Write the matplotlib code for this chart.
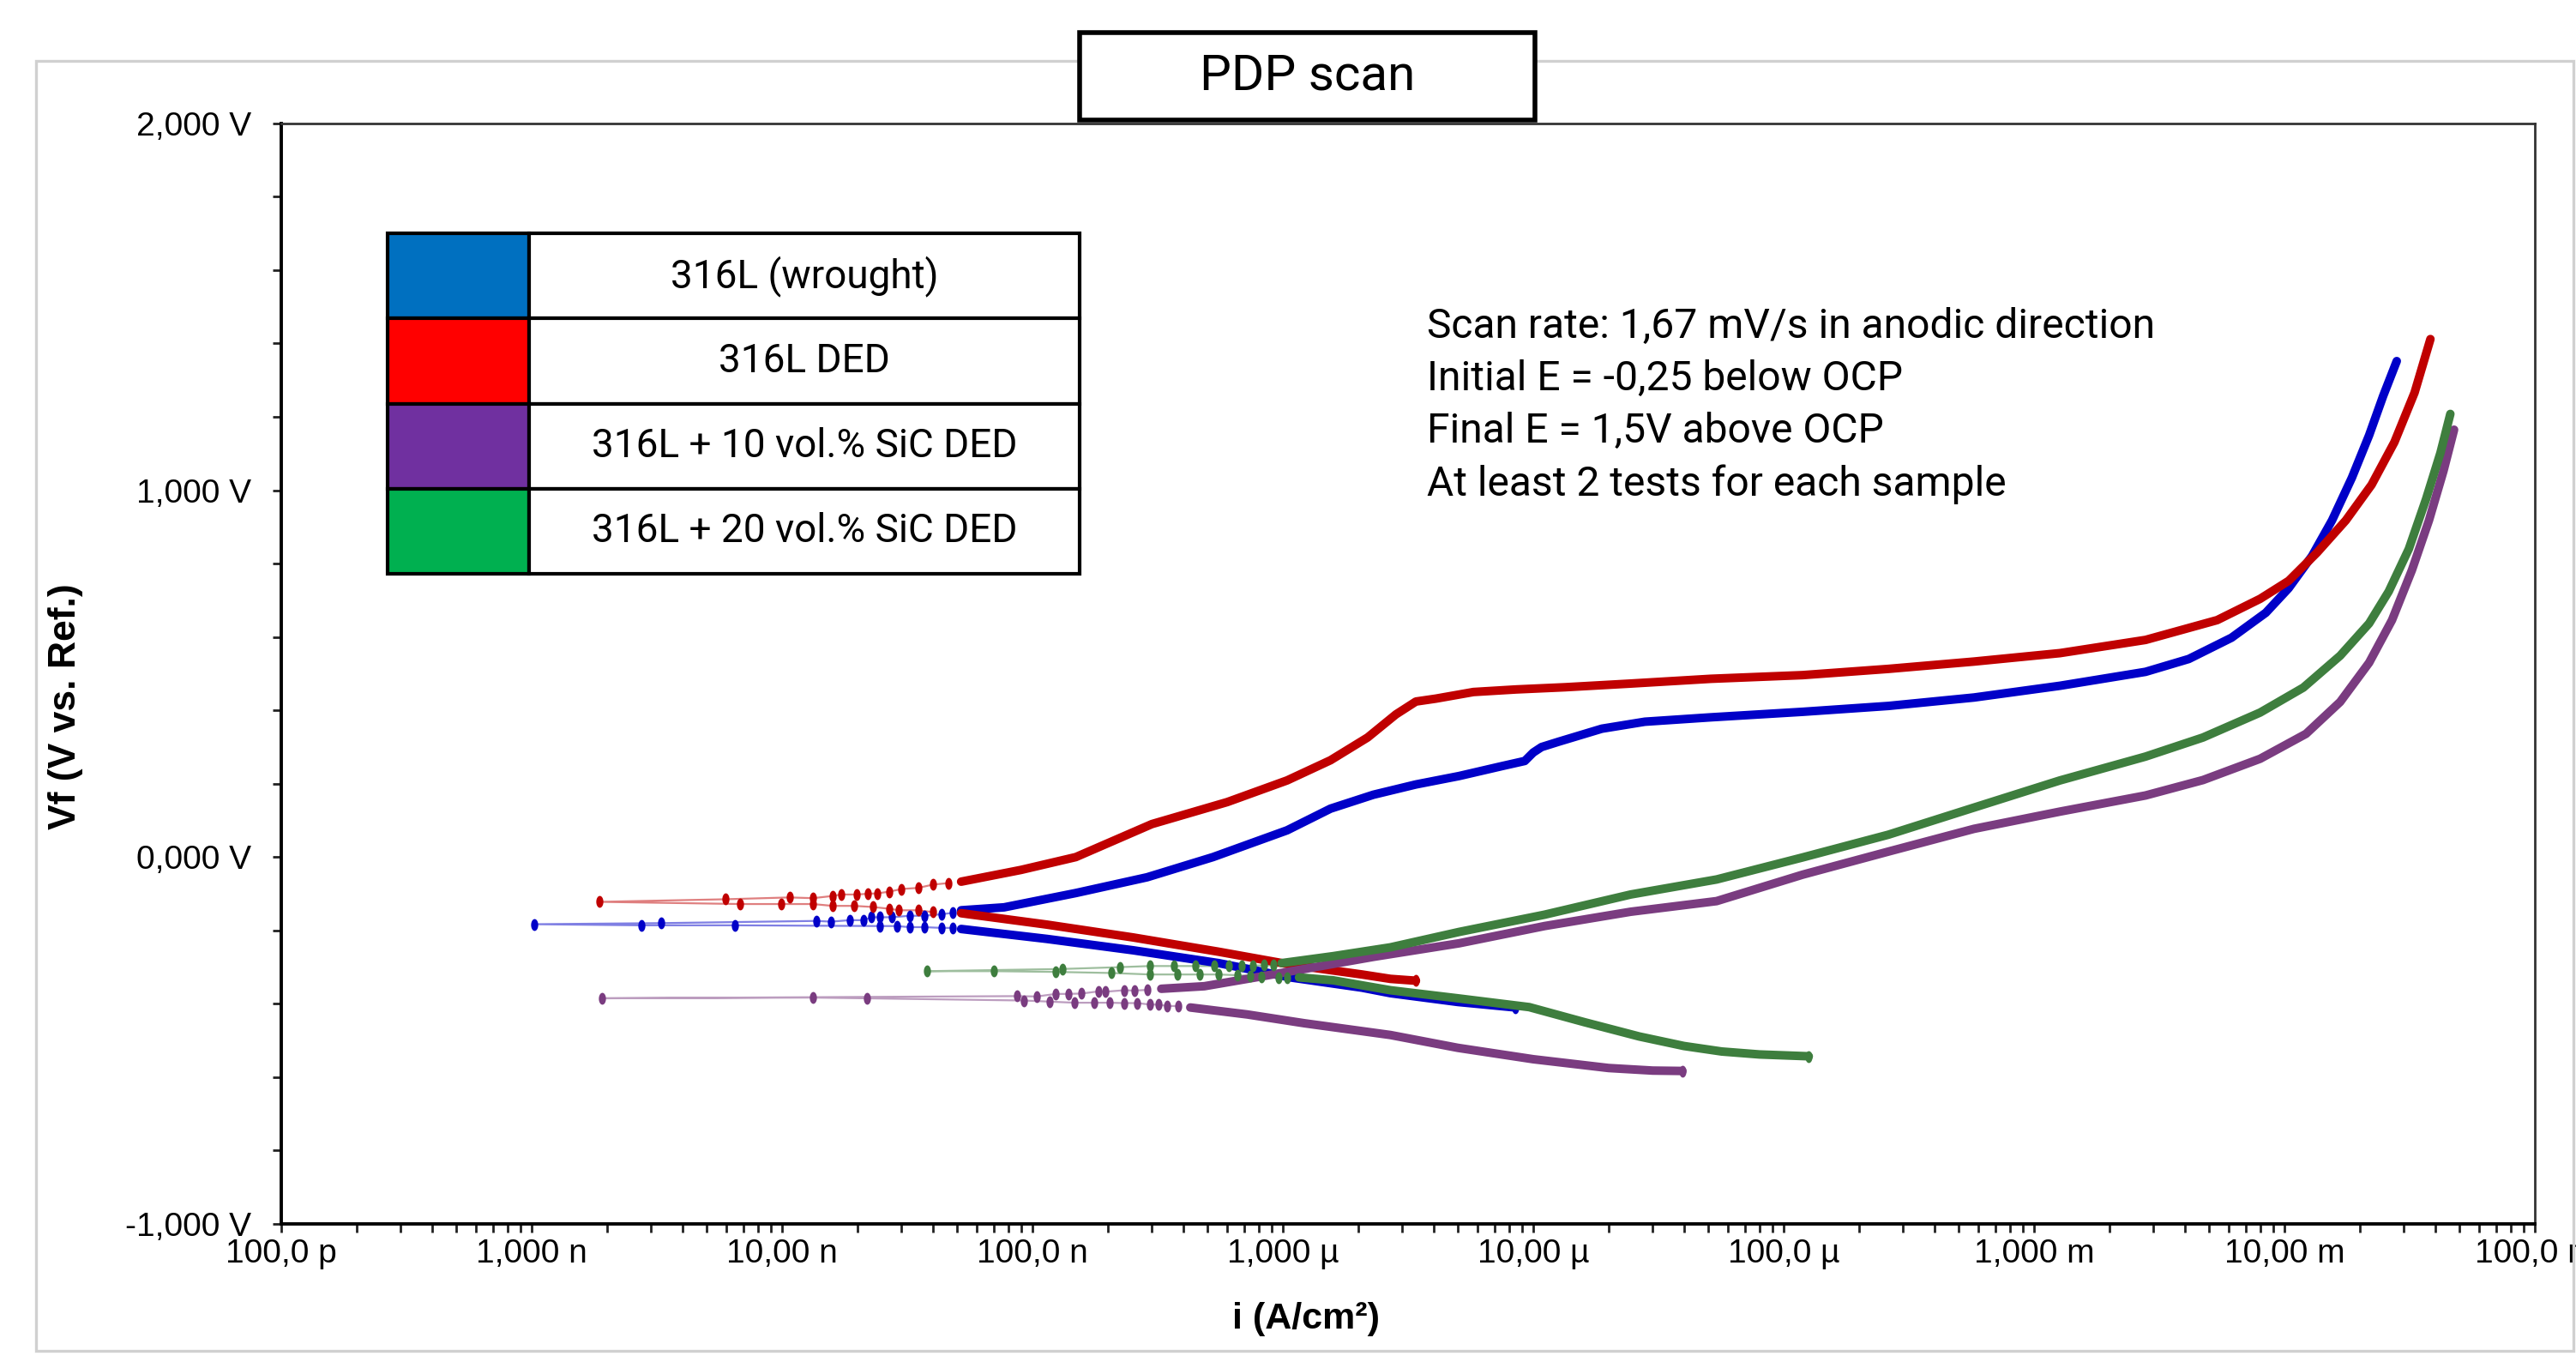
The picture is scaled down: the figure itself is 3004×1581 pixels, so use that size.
import matplotlib.pyplot as plt
from matplotlib.patches import Rectangle
from matplotlib.ticker import LogLocator, NullFormatter, MultipleLocator
import numpy as np

# axis ticks
x_ticks = [1e-10, 1e-9, 1e-8, 1e-7, 1e-6, 1e-5, 1e-4, 1e-3, 1e-2, 1e-1]
x_tick_labels = ["100,0 p", "1,000 n", "10,00 n", "100,0 n", "1,000 µ",
                 "10,00 µ", "100,0 µ", "1,000 m", "10,00 m", "100,0 m"]
y_ticks = [-1, 0, 1, 2]
y_tick_labels = ["-1,000 V", "0,000 V", "1,000 V", "2,000 V"]

samples = ["316L (wrought)", "316L DED", "316L + 10 vol.% SiC DED", "316L + 20 vol.% SiC DED"]
legend_colors = ["#0070C0", "#FF0000", "#7030A0", "#00B050"]
curve_colors = ["#0000C8", "#C00000", "#7A3C80", "#3E7E3E"]

notes = ["Scan rate: 1,67 mV/s in anodic direction",
         "Initial E = -0,25 below OCP",
         "Final E = 1,5V above OCP",
         "At least 2 tests for each sample"]

# ---- 316L wrought (blue) ----
blue_cat_i = [8.5e-6, 5.0e-6, 2.69e-6, 2.07e-6, 1.07e-6, 5.54e-7, 2.52e-7, 1.14e-7, 5.19e-8]
blue_cat_e = [-0.410, -0.395, -0.371, -0.356, -0.328, -0.289, -0.254, -0.223, -0.196]
blue_ocp_i = [4.80e-8, 4.32e-8, 3.69e-8, 3.23e-8, 2.87e-8, 2.45e-8, 6.49e-9, 2.75e-9, 1.02e-9, 3.30e-9,
              1.37e-8, 1.57e-8, 1.86e-8, 2.12e-8, 2.27e-8, 2.45e-8, 2.75e-8, 3.23e-8, 3.69e-8, 4.32e-8, 4.80e-8]
blue_ocp_e = [-0.193, -0.193, -0.191, -0.191, -0.188, -0.188, -0.186, -0.186, -0.183, -0.180,
              -0.174, -0.176, -0.172, -0.172, -0.164, -0.164, -0.164, -0.160, -0.160, -0.156, -0.152]
blue_an_i = [5.19e-8, 7.70e-8, 1.49e-7, 2.87e-7, 5.26e-7, 1.04e-6, 1.55e-6, 2.30e-6, 3.40e-6, 5.06e-6,
             7.50e-6, 9.25e-6, 1.00e-5, 1.08e-5, 1.27e-5, 1.88e-5, 2.79e-5, 5.12e-5, 1.19e-4, 2.62e-4,
             5.76e-4, 1.27e-3, 2.79e-3, 4.15e-3, 6.15e-3, 8.43e-3, 1.04e-2, 1.29e-2, 1.55e-2, 1.86e-2,
             2.18e-2, 2.48e-2, 2.81e-2]
blue_an_e = [-0.145, -0.137, -0.098, -0.055, 0.000, 0.073, 0.132, 0.170, 0.198, 0.221,
             0.248, 0.262, 0.285, 0.300, 0.315, 0.350, 0.369, 0.381, 0.396, 0.412,
             0.435, 0.467, 0.505, 0.540, 0.598, 0.666, 0.733, 0.821, 0.918, 1.034,
             1.150, 1.257, 1.352]

# ---- 316L DED (red) ----
red_cat_i = [3.40e-6, 2.69e-6, 2.07e-6, 1.07e-6, 5.54e-7, 2.52e-7, 1.14e-7, 5.19e-8]
red_cat_e = [-0.337, -0.332, -0.320, -0.293, -0.258, -0.219, -0.184, -0.153]
red_ocp_i = [4.0e-8, 3.5e-8, 2.92e-8, 2.69e-8, 2.3e-8, 1.94e-8, 1.59e-8, 1.33e-8, 9.89e-9, 6.81e-9, 1.87e-9,
             5.92e-9, 1.07e-8, 1.33e-8, 1.59e-8, 1.72e-8, 1.99e-8, 2.2e-8, 2.4e-8, 2.69e-8, 3.0e-8,
             3.5e-8, 4.0e-8, 4.6e-8]
red_ocp_e = [-0.150, -0.145, -0.145, -0.141, -0.136, -0.133, -0.133, -0.128, -0.128, -0.128, -0.122,
             -0.115, -0.110, -0.112, -0.106, -0.102, -0.102, -0.100, -0.099, -0.094, -0.087,
             -0.084, -0.075, -0.071]
red_an_i = [5.19e-8, 9.0e-8, 1.49e-7, 3.0e-7, 6.0e-7, 1.04e-6, 1.55e-6, 2.18e-6, 2.83e-6, 3.40e-6,
            4.09e-6, 5.77e-6, 8.55e-6, 1.34e-5, 2.45e-5, 5.12e-5, 1.19e-4, 2.62e-4, 5.76e-4, 1.27e-3,
            2.79e-3, 5.39e-3, 8.0e-3, 1.04e-2, 1.35e-2, 1.76e-2, 2.23e-2, 2.75e-2, 3.31e-2, 3.83e-2]
red_an_e = [-0.067, -0.035, 0.000, 0.090, 0.150, 0.209, 0.264, 0.326, 0.389, 0.424,
            0.432, 0.450, 0.457, 0.463, 0.473, 0.486, 0.496, 0.513, 0.533, 0.556,
            0.592, 0.646, 0.704, 0.753, 0.830, 0.918, 1.015, 1.131, 1.266, 1.412]

# ---- 316L + 10 vol.% SiC DED (purple) ----
purple_cat_i = [3.94e-5, 3.0e-5, 2.0e-5, 1.0e-5, 5.0e-6, 2.69e-6, 1.22e-6, 7.21e-7, 4.27e-7]
purple_cat_e = [-0.583, -0.582, -0.575, -0.551, -0.520, -0.485, -0.453, -0.429, -0.410]
purple_ocp_i = [3.83e-7, 3.45e-7, 3.19e-7, 2.95e-7, 2.62e-7, 2.32e-7, 2.04e-7, 1.76e-7, 1.47e-7, 1.17e-7,
                9.26e-8, 2.18e-8, 1.33e-8, 1.91e-9, 8.67e-8, 1.04e-7, 1.24e-7, 1.39e-7, 1.57e-7,
                1.84e-7, 1.96e-7, 2.32e-7, 2.55e-7, 2.87e-7]
purple_ocp_e = [-0.406, -0.406, -0.402, -0.402, -0.398, -0.398, -0.397, -0.397, -0.397, -0.394,
                -0.391, -0.385, -0.383, -0.385, -0.379, -0.380, -0.373, -0.373, -0.372,
                -0.366, -0.367, -0.363, -0.364, -0.362]
purple_an_i = [3.27e-7, 4.86e-7, 7.21e-7, 1.22e-6, 2.30e-6, 5.06e-6, 1.11e-5, 2.45e-5, 5.40e-5, 1.19e-4,
               2.62e-4, 5.76e-4, 1.27e-3, 2.79e-3, 4.73e-3, 8.0e-3, 1.22e-2, 1.67e-2, 2.18e-2, 2.69e-2,
               3.23e-2, 3.78e-2, 4.32e-2, 4.76e-2]
purple_an_e = [-0.359, -0.352, -0.332, -0.305, -0.272, -0.235, -0.188, -0.149, -0.120, -0.048,
               0.015, 0.077, 0.124, 0.168, 0.210, 0.268, 0.336, 0.423, 0.530, 0.646,
               0.782, 0.918, 1.053, 1.165]

# ---- 316L + 20 vol.% SiC DED (green) ----
green_cat_i = [1.26e-4, 8.0e-5, 5.66e-5, 4.0e-5, 2.65e-5, 1.6e-5, 9.64e-6, 5.0e-6, 2.69e-6, 1.59e-6, 1.16e-6]
green_cat_e = [-0.543, -0.538, -0.530, -0.515, -0.489, -0.450, -0.409, -0.385, -0.363, -0.336, -0.328]
green_ocp_i = [1.04e-6, 9.64e-7, 8.22e-7, 7.40e-7, 6.58e-7, 5.54e-7, 4.67e-7, 3.78e-7, 2.95e-7, 2.07e-7,
               1.24e-7, 7.03e-8, 3.78e-8, 1.32e-7, 2.24e-7, 2.95e-7, 3.68e-7, 4.49e-7, 5.32e-7, 6.08e-7,
               6.84e-7, 7.60e-7, 8.44e-7, 9.14e-7]
green_ocp_e = [-0.328, -0.328, -0.326, -0.324, -0.322, -0.320, -0.320, -0.320, -0.320, -0.316,
               -0.313, -0.311, -0.311, -0.305, -0.300, -0.297, -0.297, -0.297, -0.297, -0.297,
               -0.296, -0.296, -0.295, -0.295]
green_an_i = [9.89e-7, 1.59e-6, 2.69e-6, 5.06e-6, 1.11e-5, 2.45e-5, 5.40e-5, 1.19e-4, 2.62e-4, 5.76e-4,
              1.27e-3, 2.79e-3, 4.73e-3, 8.0e-3, 1.19e-2, 1.67e-2, 2.18e-2, 2.61e-2, 3.14e-2, 3.68e-2,
              4.20e-2, 4.60e-2]
green_an_e = [-0.289, -0.270, -0.246, -0.204, -0.157, -0.102, -0.061, -0.001, 0.061, 0.135,
              0.209, 0.274, 0.326, 0.394, 0.462, 0.549, 0.637, 0.724, 0.840, 0.976,
              1.102, 1.208]

plt.rcParams['font.family'] = ['Liberation Sans', 'DejaVu Sans']

fig = plt.figure(figsize=(15.02, 7.905), dpi=200)

# chart area border
fig.add_artist(Rectangle((0.014, 0.004), 0.985, 0.951, transform=fig.transFigure,
                         fill=False, edgecolor="#D0D0D0", lw=1.2))

ax = fig.add_axes([0.1092, 0.0974, 0.8748, 0.8116])

# upright ellipse marker (the picture is squeezed sideways)
t = np.linspace(0, 2 * np.pi, 24)
ell = list(zip(0.6 * np.cos(t), np.sin(t)))

curves = [
    (blue_cat_i, blue_cat_e, blue_ocp_i, blue_ocp_e, blue_an_i, blue_an_e),
    (red_cat_i, red_cat_e, red_ocp_i, red_ocp_e, red_an_i, red_an_e),
    (purple_cat_i, purple_cat_e, purple_ocp_i, purple_ocp_e, purple_an_i, purple_an_e),
    (green_cat_i, green_cat_e, green_ocp_i, green_ocp_e, green_an_i, green_an_e),
]

for (ci, ce, oi, oe, ai, ae), col in zip(curves, curve_colors):
    # dense parts of the scan drawn as a thick band
    ax.plot(ci, ce, color=col, lw=3.6, solid_capstyle='round', solid_joinstyle='round', zorder=3)
    ax.plot(ai, ae, color=col, lw=3.6, solid_capstyle='round', solid_joinstyle='round', zorder=3)
    # sparse points around the corrosion potential
    ax.plot(oi, oe, color=col, lw=0.8, alpha=0.5, zorder=2)
    ax.plot(oi, oe, ls='none', marker=ell, ms=5.0, color=col, mew=0, zorder=3)
    ax.plot(ci[:1], ce[:1], ls='none', marker=ell, ms=5.0, color=col, mew=0, zorder=3)

ax.set_xscale('log')
ax.set_xlim(1e-10, 1e-1)
ax.set_ylim(-1, 2)
ax.set_xticks(x_ticks, x_tick_labels)
ax.xaxis.set_minor_locator(LogLocator(base=10, subs=range(2, 10), numticks=30))
ax.xaxis.set_minor_formatter(NullFormatter())
ax.set_yticks(y_ticks, y_tick_labels)
ax.yaxis.set_minor_locator(MultipleLocator(0.2))

ax.tick_params(axis='both', which='both', direction='out', length=3.5, width=1.0, color='#222222')
ax.tick_params(axis='x', which='major', labelsize=14, pad=2.5)
ax.tick_params(axis='y', which='major', labelsize=14, pad=9)

for side in ['left', 'bottom']:
    ax.spines[side].set_linewidth(1.4)
    ax.spines[side].set_color('black')
for side in ['top', 'right']:
    ax.spines[side].set_linewidth(1.0)
    ax.spines[side].set_color('#333333')

fig.text(0.0256, 0.479, "Vf (V vs. Ref.)", rotation=90, ha='center', va='center',
         fontsize=16, fontweight='bold')
fig.text(0.507, 0.027, "i (A/cm²)", ha='center', va='center', fontsize=15.5, fontweight='bold')

# title box
fig.add_artist(Rectangle((0.419, 0.9114), 0.177, 0.0646, transform=fig.transFigure,
                         facecolor='white', edgecolor='black', lw=2.0, zorder=5))
fig.text(0.5075, 0.944, "PDP scan", ha='center', va='center', fontsize=21,
         family=['Roboto', 'DejaVu Sans'], zorder=6)

# legend table
x0, xs, x1 = 0.1505, 0.2054, 0.4191
top, row_h = 0.828, 0.0628
for k, (name, col) in enumerate(zip(samples, legend_colors)):
    yb = top - (k + 1) * row_h
    fig.add_artist(Rectangle((x0, yb), xs - x0, row_h, transform=fig.transFigure,
                             facecolor=col, edgecolor='black', lw=1.5, zorder=5))
    fig.add_artist(Rectangle((xs, yb), x1 - xs, row_h, transform=fig.transFigure,
                             facecolor='white', edgecolor='black', lw=1.5, zorder=5))
    fig.text((xs + x1) / 2, yb + row_h / 2, name, ha='center', va='center', fontsize=16.5,
             family=['Roboto', 'DejaVu Sans'], zorder=6)

# notes
for k, line in enumerate(notes):
    fig.text(0.554, 0.759 - k * 0.0387, line, ha='left', va='center', fontsize=17.3,
             family=['Roboto', 'DejaVu Sans'])

fig.savefig("out.png", dpi=200)
